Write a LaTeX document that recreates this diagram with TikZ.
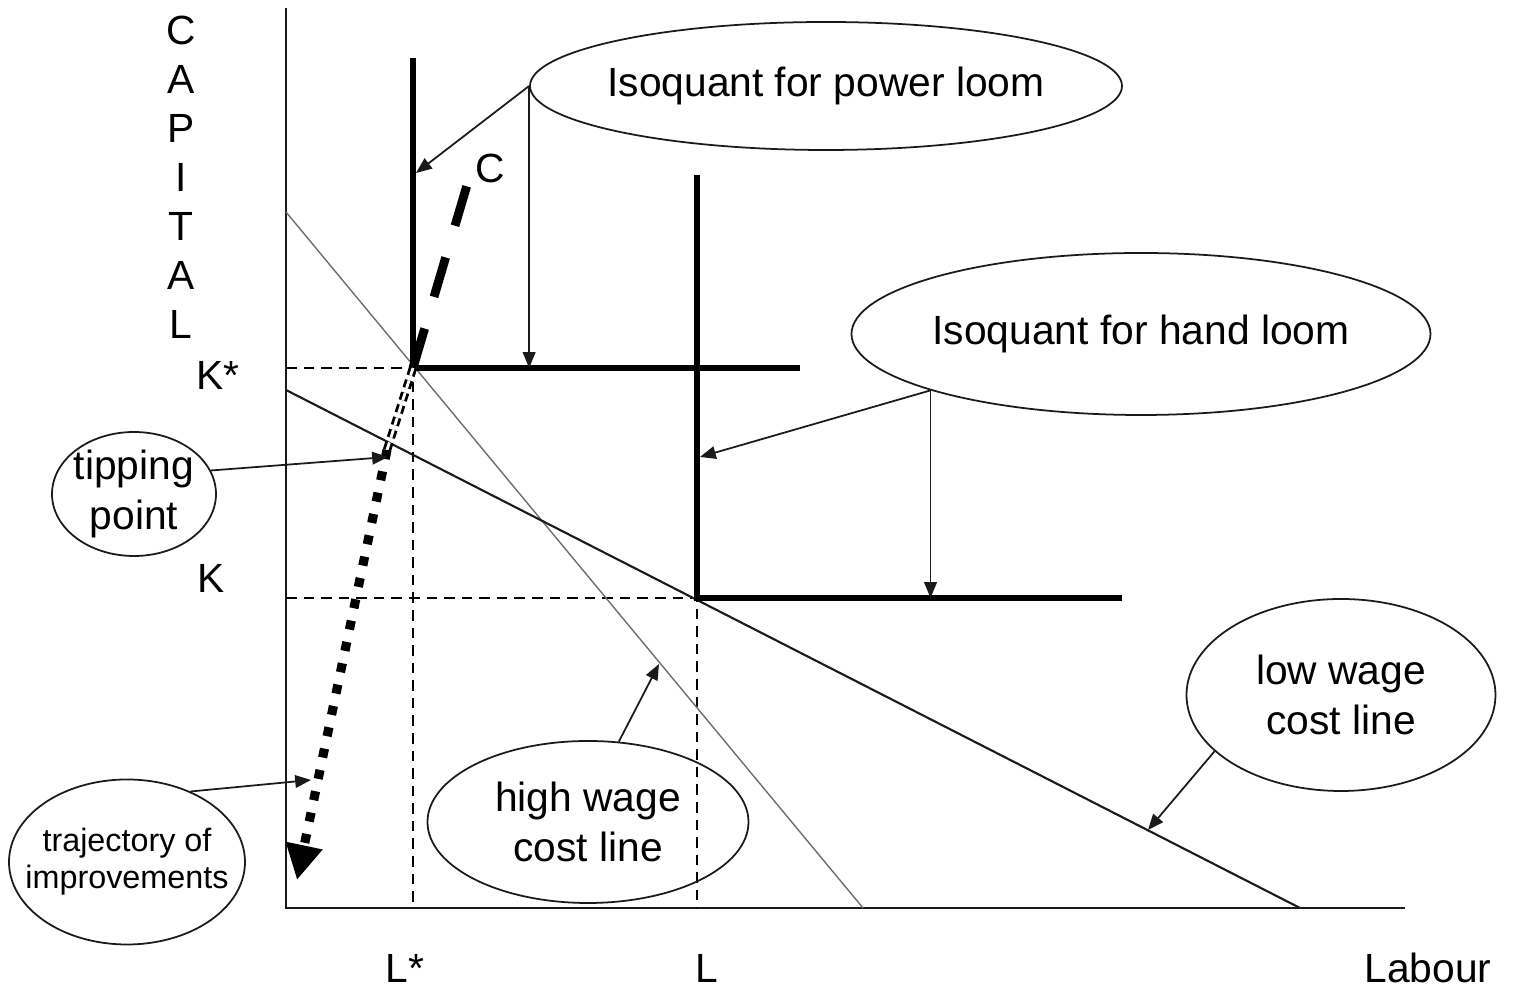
\documentclass[tikz,border=0pt]{standalone}
\usepackage{fontspec}
\setmainfont{Liberation Sans}
\usetikzlibrary{arrows.meta,shapes.geometric}
\definecolor{Ink}{HTML}{1A1A1A}
\definecolor{Thin}{HTML}{6E6E6E}

\begin{document}
\begin{tikzpicture}[
  every node/.style={font=\fontsize{11.6}{14}\selectfont},
  bubble/.style={draw=Ink,line width=.5pt,ellipse,inner xsep=-4mm,inner ysep=-1mm,align=center},
  pointer/.style={draw=Ink,line width=.5pt,-{Triangle[length=4.5pt,width=3.6pt]}},
  guide/.style={line width=.4pt,dash pattern=on 3pt off 2pt},
  iso/.style={line width=1.7pt}]
\useasboundingbox (0,0) rectangle (15.14,9.93);
\coordinate (O) at (2.86,0.85);
\coordinate (Ks) at (2.86,6.25);
\coordinate (K) at (2.86,3.95);
\coordinate (A) at (4.13,6.25);
\coordinate (B) at (6.97,3.95);
\draw[Ink,line width=.6pt] (2.86,9.85) -- (O) -- (14.05,0.85);
\draw[guide] (Ks) -- (A) -- (A |- O);
\draw[guide] (K) -- (B) -- (B |- O);
\draw[Thin,line width=.4pt] (2.86,7.81) -- (8.63,0.85);
\draw[Ink,line width=.6pt] (2.86,6.03) -- (13.00,0.85);
\draw[iso] (4.13,9.35) -- (A) -- (8.00,6.25);
\draw[iso] (6.97,8.18) -- (B) -- (11.22,3.95);
\node (clab) at (4.90,8.25) {C};
\coordinate (cc) at (4.70,8.18);
\draw[line width=2.5pt,dash pattern=on 11.7pt off 9.4pt] (A) -- (cc);
\coordinate (tb) at (3.87,5.43);
\coordinate (tt) at (2.97,1.13);
\draw[line width=.8pt,double distance=.8pt,dash pattern=on 2.3pt off 1.4pt] (A) -- (tb);
\draw[line width=2.6pt,dash pattern=on 2.6pt off 3.6pt,-{Triangle[length=10pt,width=10pt]}] (tb) -- (tt);
\foreach \l [count=\i] in {C,A,P,I,T,A,L} \node (cap\i) at (1.81,{9.63-0.49*(\i-1)}) {\l};
\node (kstar) at (2.18,6.18) {K*};
\node (klab) at (2.11,4.15) {K};
\node (lstar) at (4.05,0.25) {L*};
\node (llab) at (7.07,0.25) {L};
\node (labour) at (14.28,0.25) {Labour};
\node[bubble,minimum width=5.92cm,minimum height=1.28cm] (power) at (8.26,9.07) {Isoquant for power loom};
\node[bubble,minimum width=5.79cm,minimum height=1.62cm] (hand) at (11.41,6.59) {Isoquant for hand loom};
\node[bubble,minimum width=1.64cm,minimum height=1.24cm] (tip) at (1.34,4.99) {tipping\\point};
\node[bubble,minimum width=2.36cm,minimum height=1.65cm,font=\fontsize{9.2}{10.6}\selectfont] (traj) at (1.27,1.31) {trajectory of\\improvements};
\node[bubble,minimum width=3.21cm,minimum height=1.62cm] (high) at (5.88,1.71) {high wage\\cost line};
\node[bubble,minimum width=3.09cm,minimum height=1.92cm] (low) at (13.41,2.98) {low wage\\cost line};
\coordinate (pv) at (4.16,8.20);
\coordinate (hv) at (7.00,5.36);
\coordinate (tp) at (3.88,5.36);
\coordinate (tr) at (3.11,2.13);
\coordinate (hw) at (6.59,3.29);
\coordinate (lw) at (11.48,1.63);
\draw[pointer] (power.west) -- (pv);
\draw[pointer] (power.west) -- (power.west |- A);
\draw[pointer] (hand.195) -- (hv);
\draw[pointer] (hand.195) -- (hand.195 |- B);
\draw[pointer] (tip.17) -- (tp);
\draw[pointer] (traj.48) -- (tr);
\draw[pointer] (high.69) -- (hw);
\draw[pointer] (low.204) -- (lw);
\end{tikzpicture}
\end{document}
